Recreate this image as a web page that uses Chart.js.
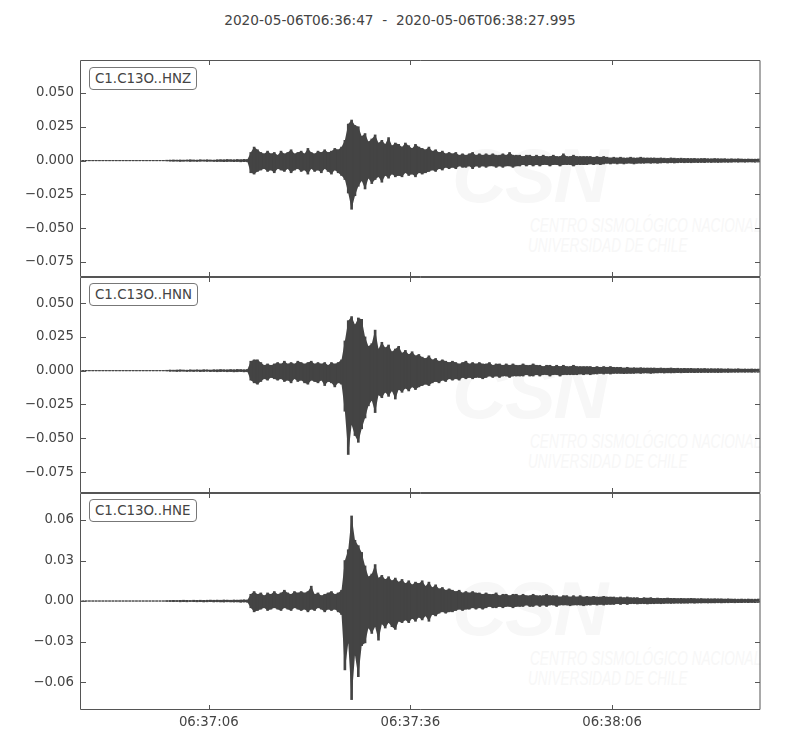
<!DOCTYPE html>
<html>
<head>
<meta charset="utf-8">
<script src="https://cdn.jsdelivr.net/npm/chart.js@4/dist/chart.umd.min.js"></script>
<style>
  body{margin:0;background:#fff;width:800px;height:750px;position:relative;overflow:hidden;font-family:"DejaVu Sans",sans-serif;}
  canvas{position:absolute;left:0;z-index:1;}
  .title{position:absolute;top:12px;left:0;width:800px;text-align:center;font-size:13.7px;color:#444;z-index:2;white-space:pre;}
  .lbl{position:absolute;left:89px;border:1px solid #777;border-radius:4px;background:#fff;color:#444;font-size:13.4px;padding:3px 5px;line-height:15px;z-index:3;white-space:nowrap;}
  .wm{position:absolute;z-index:0;color:#f7f7f7;font-family:"Liberation Sans",sans-serif;white-space:nowrap;}
  .wm .csn{position:absolute;left:0;top:0;font-size:76px;font-style:italic;font-weight:bold;letter-spacing:-2px;}
  .wm .l1{position:absolute;left:78px;top:82px;font-size:20px;font-style:italic;transform:scaleX(0.68);transform-origin:left top;}
  .wm .l2{position:absolute;left:76px;top:102px;font-size:20px;font-style:italic;transform:scaleX(0.68);transform-origin:left top;}
</style>
</head>
<body>
<div class="title" id="title"></div>

<div class="wm" style="left:452px;top:132px;"><span class="csn">CSN</span><span class="l1">CENTRO SISMOLÓGICO NACIONAL</span><span class="l2">UNIVERSIDAD DE CHILE</span></div>
<div class="wm" style="left:452px;top:348px;"><span class="csn">CSN</span><span class="l1">CENTRO SISMOLÓGICO NACIONAL</span><span class="l2">UNIVERSIDAD DE CHILE</span></div>
<div class="wm" style="left:452px;top:565px;"><span class="csn">CSN</span><span class="l1">CENTRO SISMOLÓGICO NACIONAL</span><span class="l2">UNIVERSIDAD DE CHILE</span></div>

<canvas id="c1" width="800" height="247" style="top:45px"></canvas>
<canvas id="c2" width="800" height="246" style="top:262px"></canvas>
<canvas id="c3" width="800" height="262" style="top:478px"></canvas>

<div class="lbl" id="l1" style="top:67px"></div>
<div class="lbl" id="l2" style="top:283px"></div>
<div class="lbl" id="l3" style="top:499px"></div>

<script>
// ---------- data ----------
const startLabel = '2020-05-06T06:36:47';
const endLabel = '2020-05-06T06:38:27.995';
const recordSeconds = 100.995;       // length of the record in seconds
const binSeconds = 0.5;              // each value below is the max/min of one 0.5 s bin

const channels = ['C1.C13O..HNZ', 'C1.C13O..HNN', 'C1.C13O..HNE'];

const xTickSeconds = [19, 49, 79];
const xTickLabels = ['06:37:06', '06:37:36', '06:38:06'];

const yTicksHNZ = [0.05, 0.025, 0, -0.025, -0.05, -0.075];
const yLabelsHNZ = ['0.050', '0.025', '0.000', '\u22120.025', '\u22120.050', '\u22120.075'];
const yTicksHNN = [0.05, 0.025, 0, -0.025, -0.05, -0.075];
const yLabelsHNN = ['0.050', '0.025', '0.000', '\u22120.025', '\u22120.050', '\u22120.075'];
const yTicksHNE = [0.06, 0.03, 0, -0.03, -0.06];
const yLabelsHNE = ['0.06', '0.03', '0.00', '\u22120.03', '\u22120.06'];

const yRangeHNZ = [-0.0861, 0.0744];
const yRangeHNN = [-0.0905, 0.0693];
const yRangeHNE = [-0.0807, 0.0800];

const hnzMax = [
0.0002,0.0002,0.0002,0.0002,0.0002,0.0002,0.0002,0.0002,0.0002,0.0002,
0.0002,0.0002,0.0002,0.0002,0.0002,0.0002,0.0002,0.0002,0.0002,0.0002,
0.0002,0.0002,0.0002,0.0002,0.0002,0.0003,0.0004,0.0005,0.0004,0.0005,
0.0004,0.0005,0.0006,0.0005,0.0004,0.0006,0.0005,0.0006,0.0005,0.0004,
0.0006,0.0007,0.0006,0.0008,0.0007,0.0006,0.0008,0.0007,0.0009,0.0008,
0.006,0.010,0.008,0.006,0.005,0.007,0.005,0.006,0.004,0.007,
0.005,0.006,0.008,0.005,0.006,0.007,0.005,0.009,0.006,0.005,
0.007,0.006,0.008,0.006,0.007,0.009,0.008,0.010,0.015,0.027,
0.030,0.026,0.025,0.018,0.020,0.014,0.016,0.019,0.013,0.015,
0.012,0.017,0.011,0.013,0.012,0.010,0.013,0.011,0.009,0.012,
0.010,0.009,0.008,0.010,0.007,0.008,0.006,0.007,0.005,0.006,
0.005,0.006,0.004,0.005,0.004,0.005,0.006,0.004,0.005,0.004,
0.005,0.004,0.005,0.004,0.004,0.005,0.004,0.006,0.004,0.004,
0.004,0.003,0.004,0.004,0.003,0.004,0.003,0.004,0.003,0.003,
0.004,0.003,0.003,0.005,0.003,0.003,0.004,0.003,0.003,0.003,
0.003,0.003,0.0025,0.003,0.0025,0.003,0.0025,0.002,0.0025,0.002,
0.0025,0.002,0.002,0.0025,0.002,0.002,0.0025,0.002,0.002,0.002,
0.002,0.0018,0.002,0.0018,0.0016,0.002,0.0018,0.0016,0.0018,0.0016,
0.0016,0.0015,0.0016,0.0014,0.0015,0.0016,0.0014,0.0013,0.0015,0.0014,
0.0013,0.0014,0.0012,0.0013,0.0012,0.0013,0.0012,0.0011,0.0012,0.0011,
0.0011,0.0012
];
const hnzMin = [
-0.0002,-0.0002,-0.0002,-0.0002,-0.0002,-0.0002,-0.0002,-0.0002,-0.0002,-0.0002,
-0.0002,-0.0002,-0.0002,-0.0002,-0.0002,-0.0002,-0.0002,-0.0002,-0.0002,-0.0002,
-0.0002,-0.0002,-0.0002,-0.0002,-0.0002,-0.0003,-0.0004,-0.0005,-0.0004,-0.0006,
-0.0005,-0.0004,-0.0006,-0.0005,-0.0006,-0.0005,-0.0004,-0.0006,-0.0005,-0.0006,
-0.0007,-0.0006,-0.0008,-0.0007,-0.0006,-0.0008,-0.0007,-0.0009,-0.0008,-0.0009,
-0.009,-0.010,-0.008,-0.007,-0.006,-0.008,-0.007,-0.009,-0.006,-0.007,
-0.008,-0.006,-0.009,-0.007,-0.006,-0.008,-0.007,-0.010,-0.006,-0.008,
-0.007,-0.009,-0.006,-0.008,-0.010,-0.007,-0.009,-0.011,-0.014,-0.024,
-0.036,-0.026,-0.019,-0.015,-0.021,-0.013,-0.017,-0.014,-0.012,-0.016,
-0.011,-0.013,-0.010,-0.012,-0.011,-0.012,-0.009,-0.011,-0.010,-0.012,
-0.009,-0.010,-0.009,-0.008,-0.007,-0.008,-0.006,-0.007,-0.005,-0.006,
-0.005,-0.006,-0.004,-0.005,-0.005,-0.004,-0.006,-0.004,-0.005,-0.004,
-0.005,-0.004,-0.004,-0.005,-0.004,-0.005,-0.004,-0.004,-0.005,-0.004,
-0.004,-0.003,-0.004,-0.003,-0.004,-0.003,-0.004,-0.003,-0.003,-0.004,
-0.003,-0.003,-0.004,-0.003,-0.003,-0.003,-0.004,-0.003,-0.003,-0.003,
-0.003,-0.0025,-0.003,-0.0025,-0.003,-0.0025,-0.002,-0.0025,-0.002,-0.0025,
-0.002,-0.0025,-0.002,-0.002,-0.0025,-0.002,-0.002,-0.002,-0.0018,-0.002,
-0.0018,-0.002,-0.0018,-0.0016,-0.0018,-0.0016,-0.0018,-0.0016,-0.0015,-0.0016,
-0.0015,-0.0016,-0.0014,-0.0015,-0.0014,-0.0015,-0.0013,-0.0014,-0.0013,-0.0014,
-0.0013,-0.0012,-0.0013,-0.0012,-0.0011,-0.0012,-0.0011,-0.0012,-0.0011,-0.0011,
-0.0012,-0.0011
];

const hnnMax = [
0.0002,0.0002,0.0002,0.0002,0.0002,0.0002,0.0002,0.0002,0.0002,0.0002,
0.0002,0.0002,0.0002,0.0002,0.0002,0.0002,0.0002,0.0002,0.0002,0.0002,
0.0002,0.0002,0.0002,0.0002,0.0002,0.0003,0.0005,0.0004,0.0005,0.0006,
0.0005,0.0004,0.0006,0.0005,0.0006,0.0005,0.0007,0.0006,0.0005,0.0007,
0.0006,0.0008,0.0007,0.0006,0.0008,0.0007,0.0009,0.0008,0.0007,0.0009,
0.007,0.008,0.008,0.006,0.004,0.005,0.004,0.005,0.006,0.005,
0.007,0.005,0.006,0.005,0.007,0.006,0.005,0.006,0.007,0.005,
0.006,0.005,0.006,0.004,0.006,0.005,0.006,0.008,0.022,0.037,
0.040,0.034,0.039,0.038,0.025,0.018,0.020,0.030,0.016,0.021,
0.017,0.019,0.014,0.016,0.018,0.013,0.015,0.012,0.014,0.011,
0.012,0.010,0.009,0.011,0.008,0.009,0.007,0.008,0.007,0.006,
0.007,0.006,0.005,0.006,0.007,0.005,0.006,0.005,0.006,0.005,
0.005,0.006,0.004,0.005,0.005,0.004,0.005,0.004,0.005,0.004,
0.004,0.005,0.004,0.004,0.005,0.004,0.004,0.003,0.004,0.004,
0.003,0.004,0.003,0.004,0.003,0.003,0.004,0.003,0.003,0.003,
0.003,0.003,0.0025,0.003,0.0025,0.003,0.0025,0.003,0.0025,0.0025,
0.0025,0.002,0.0025,0.002,0.0022,0.002,0.0022,0.002,0.002,0.002,
0.002,0.0018,0.002,0.0018,0.0018,0.002,0.0017,0.0018,0.0016,0.0017,
0.0016,0.0017,0.0015,0.0016,0.0015,0.0016,0.0014,0.0015,0.0014,0.0015,
0.0014,0.0013,0.0014,0.0013,0.0013,0.0014,0.0012,0.0013,0.0012,0.0013,
0.0012,0.0012
];
const hnnMin = [
-0.0002,-0.0002,-0.0002,-0.0002,-0.0002,-0.0002,-0.0002,-0.0002,-0.0002,-0.0002,
-0.0002,-0.0002,-0.0002,-0.0002,-0.0002,-0.0002,-0.0002,-0.0002,-0.0002,-0.0002,
-0.0002,-0.0002,-0.0002,-0.0002,-0.0002,-0.0003,-0.0005,-0.0004,-0.0006,-0.0005,
-0.0004,-0.0006,-0.0005,-0.0006,-0.0005,-0.0007,-0.0006,-0.0005,-0.0007,-0.0006,
-0.0008,-0.0007,-0.0006,-0.0008,-0.0007,-0.0009,-0.0008,-0.0007,-0.0009,-0.0008,
-0.007,-0.009,-0.010,-0.008,-0.006,-0.007,-0.005,-0.006,-0.007,-0.006,
-0.008,-0.007,-0.009,-0.006,-0.008,-0.007,-0.009,-0.010,-0.007,-0.008,
-0.009,-0.007,-0.011,-0.008,-0.009,-0.012,-0.009,-0.010,-0.030,-0.062,
-0.040,-0.048,-0.053,-0.043,-0.035,-0.026,-0.022,-0.031,-0.018,-0.020,
-0.016,-0.019,-0.015,-0.021,-0.014,-0.016,-0.013,-0.015,-0.012,-0.014,
-0.012,-0.011,-0.010,-0.011,-0.009,-0.008,-0.009,-0.007,-0.008,-0.006,
-0.007,-0.006,-0.007,-0.005,-0.006,-0.005,-0.006,-0.005,-0.005,-0.006,
-0.005,-0.004,-0.005,-0.004,-0.005,-0.004,-0.004,-0.005,-0.004,-0.004,
-0.004,-0.004,-0.003,-0.004,-0.004,-0.003,-0.004,-0.003,-0.003,-0.004,
-0.003,-0.003,-0.004,-0.003,-0.003,-0.003,-0.003,-0.003,-0.0025,-0.003,
-0.0025,-0.003,-0.0025,-0.0025,-0.002,-0.0025,-0.002,-0.0025,-0.002,-0.002,
-0.002,-0.0022,-0.002,-0.002,-0.002,-0.0018,-0.002,-0.0018,-0.0018,-0.002,
-0.0018,-0.0017,-0.0016,-0.0018,-0.0016,-0.0017,-0.0016,-0.0015,-0.0016,-0.0015,
-0.0015,-0.0014,-0.0015,-0.0014,-0.0014,-0.0013,-0.0014,-0.0013,-0.0013,-0.0014,
-0.0013,-0.0012,-0.0013,-0.0012,-0.0012,-0.0012,-0.0011,-0.0012,-0.0011,-0.0012,
-0.0011,-0.0012
];

const hneMax = [
0.0002,0.0002,0.0002,0.0002,0.0002,0.0002,0.0002,0.0002,0.0002,0.0002,
0.0002,0.0002,0.0002,0.0002,0.0002,0.0002,0.0002,0.0002,0.0002,0.0002,
0.0002,0.0002,0.0002,0.0002,0.0002,0.0003,0.0004,0.0005,0.0004,0.0005,
0.0006,0.0005,0.0004,0.0006,0.0005,0.0006,0.0005,0.0006,0.0007,0.0006,
0.0007,0.0006,0.0008,0.0007,0.0006,0.0008,0.0007,0.0008,0.0009,0.0008,
0.005,0.007,0.005,0.006,0.004,0.006,0.005,0.007,0.005,0.006,
0.008,0.006,0.005,0.007,0.006,0.007,0.006,0.007,0.011,0.005,
0.006,0.004,0.005,0.006,0.007,0.005,0.006,0.008,0.030,0.038,
0.063,0.045,0.041,0.036,0.026,0.018,0.020,0.027,0.017,0.019,
0.016,0.018,0.015,0.017,0.014,0.016,0.013,0.015,0.012,0.014,
0.013,0.015,0.011,0.014,0.010,0.012,0.009,0.010,0.008,0.009,
0.008,0.007,0.008,0.006,0.007,0.006,0.007,0.006,0.006,0.005,
0.006,0.005,0.005,0.006,0.004,0.005,0.005,0.004,0.005,0.005,
0.004,0.005,0.004,0.004,0.005,0.004,0.004,0.004,0.005,0.004,
0.004,0.004,0.003,0.004,0.004,0.003,0.004,0.003,0.004,0.003,
0.0035,0.003,0.0035,0.003,0.003,0.0035,0.003,0.003,0.003,0.0025,
0.003,0.0025,0.003,0.0025,0.0025,0.0025,0.002,0.0025,0.0022,0.0025,
0.002,0.0022,0.002,0.002,0.0022,0.002,0.002,0.0018,0.002,0.0018,
0.0018,0.002,0.0018,0.0017,0.0018,0.0016,0.0017,0.0016,0.0017,0.0016,
0.0016,0.0015,0.0016,0.0015,0.0015,0.0014,0.0015,0.0014,0.0015,0.0014,
0.0014,0.0015
];
const hneMin = [
-0.0002,-0.0002,-0.0002,-0.0002,-0.0002,-0.0002,-0.0002,-0.0002,-0.0002,-0.0002,
-0.0002,-0.0002,-0.0002,-0.0002,-0.0002,-0.0002,-0.0002,-0.0002,-0.0002,-0.0002,
-0.0002,-0.0002,-0.0002,-0.0002,-0.0002,-0.0003,-0.0004,-0.0005,-0.0004,-0.0006,
-0.0005,-0.0006,-0.0004,-0.0005,-0.0006,-0.0005,-0.0007,-0.0006,-0.0005,-0.0007,
-0.0006,-0.0007,-0.0008,-0.0006,-0.0007,-0.0008,-0.0007,-0.0009,-0.0008,-0.0009,
-0.005,-0.008,-0.007,-0.006,-0.005,-0.007,-0.006,-0.005,-0.006,-0.007,
-0.005,-0.006,-0.007,-0.005,-0.006,-0.007,-0.006,-0.008,-0.006,-0.007,
-0.005,-0.006,-0.008,-0.006,-0.007,-0.006,-0.008,-0.010,-0.051,-0.031,
-0.073,-0.040,-0.056,-0.033,-0.031,-0.020,-0.024,-0.019,-0.029,-0.017,
-0.020,-0.016,-0.019,-0.021,-0.015,-0.016,-0.014,-0.016,-0.013,-0.015,
-0.012,-0.014,-0.011,-0.015,-0.010,-0.011,-0.009,-0.008,-0.009,-0.008,
-0.008,-0.007,-0.006,-0.007,-0.006,-0.006,-0.005,-0.006,-0.005,-0.006,
-0.005,-0.004,-0.005,-0.005,-0.004,-0.005,-0.004,-0.004,-0.005,-0.004,
-0.004,-0.004,-0.003,-0.004,-0.004,-0.003,-0.004,-0.003,-0.004,-0.003,
-0.003,-0.004,-0.003,-0.003,-0.003,-0.0035,-0.003,-0.003,-0.003,-0.0035,
-0.003,-0.003,-0.0025,-0.003,-0.0025,-0.003,-0.0025,-0.0025,-0.0025,-0.002,
-0.0025,-0.002,-0.0025,-0.002,-0.002,-0.0022,-0.002,-0.002,-0.0022,-0.002,
-0.002,-0.0018,-0.002,-0.0018,-0.0017,-0.0018,-0.0017,-0.0016,-0.0017,-0.0016,
-0.0016,-0.0015,-0.0016,-0.0015,-0.0015,-0.0014,-0.0015,-0.0014,-0.0014,-0.0013,
-0.0014,-0.0013,-0.0013,-0.0012,-0.0013,-0.0012,-0.0012,-0.0011,-0.0012,-0.0011,
-0.0012,-0.0011
];

// ---------- drawing ----------
const traceColor = '#444444';
const frameColor = '#555555';
const textColor = '#444444';
const tickFont = { family: 'DejaVu Sans', size: 13.3 };

document.getElementById('title').textContent = startLabel + '  -  ' + endLabel;
document.getElementById('l1').textContent = channels[0];
document.getElementById('l2').textContent = channels[1];
document.getElementById('l3').textContent = channels[2];

// min/max trace rendering: thin vertical bar per bin from its minimum to its maximum,
// over a filled band between the upper and lower envelope lines
function binCenters(arr) { return arr.map((v, i) => i * binSeconds + binSeconds / 2); }
function envelope(arr) {
  const xs = binCenters(arr);
  return arr.map((v, i) => ({ x: xs[i], y: v }));
}
function minMaxBars(maxArr, minArr) {
  const xs = binCenters(maxArr);
  return maxArr.map((hi, i) => ({ x: xs[i], y: [minArr[i], hi] }));
}

function framePlugin(yTicks) {
  return {
    id: 'frame',
    afterDatasetsDraw(chart) {
      const { ctx, chartArea: a, scales } = chart;
      ctx.save();
      ctx.strokeStyle = frameColor;
      ctx.lineWidth = 1;
      ctx.beginPath();
      ctx.rect(Math.round(a.left) - 0.5, Math.round(a.top) + 0.5, Math.round(a.right - a.left) + 0.5, Math.round(a.bottom - a.top) - 1);
      ctx.stroke();
      ctx.beginPath();
      xTickSeconds.forEach(v => {
        const px = Math.round(scales.x.getPixelForValue(v)) + 0.5;
        ctx.moveTo(px, a.top); ctx.lineTo(px, a.top + 5);
        ctx.moveTo(px, a.bottom); ctx.lineTo(px, a.bottom - 5);
      });
      yTicks.forEach(v => {
        const py = Math.round(scales.y.getPixelForValue(v)) + 0.5;
        ctx.moveTo(a.left, py); ctx.lineTo(a.left + 5, py);
        ctx.moveTo(a.right, py); ctx.lineTo(a.right - 5, py);
      });
      ctx.stroke();
      ctx.restore();
    }
  };
}

function makePanel(id, maxArr, minArr, yTicks, yLabels, yRange, showX) {
  new Chart(document.getElementById(id), {
    type: 'line',
    data: {
      datasets: [{
        type: 'bar',
        data: minMaxBars(maxArr, minArr),
        backgroundColor: traceColor,
        borderWidth: 0,
        barThickness: 2,
        grouped: false,
        order: 0
      }, {
        data: envelope(maxArr),
        borderColor: 'rgba(68,68,68,0)',
        backgroundColor: traceColor,
        borderWidth: 0,
        pointRadius: 0,
        tension: 0,
        fill: '+1',
        order: 1
      }, {
        data: envelope(minArr),
        borderColor: 'rgba(68,68,68,0)',
        backgroundColor: traceColor,
        borderWidth: 0,
        pointRadius: 0,
        tension: 0,
        fill: false,
        order: 2
      }]
    },
    options: {
      responsive: false,
      animation: false,
      events: [],
      layout: { padding: { left: 0, right: 40, top: 15, bottom: showX ? 0 : 15 } },
      plugins: { legend: { display: false }, tooltip: { enabled: false }, title: { display: false } },
      scales: {
        x: {
          type: 'linear',
          min: 0,
          max: recordSeconds,
          offset: false,
          display: showX,
          grid: { display: false, drawTicks: false, offset: false },
          border: { display: false },
          afterBuildTicks: s => { s.ticks = xTickSeconds.map(v => ({ value: v })); },
          afterFit: s => { if (showX) s.height = 30; },
          ticks: {
            color: textColor, font: tickFont, padding: 5, maxRotation: 0, autoSkip: false,
            callback: (v, i) => xTickLabels[i]
          }
        },
        y: {
          type: 'linear',
          min: yRange[0],
          max: yRange[1],
          grid: { display: false, drawTicks: false },
          border: { display: false },
          afterBuildTicks: s => { s.ticks = yTicks.map(v => ({ value: v })); },
          afterFit: s => { s.width = 81; },
          ticks: {
            color: textColor, font: tickFont, padding: 7, autoSkip: false,
            callback: (v, i) => yLabels[i]
          }
        }
      }
    },
    plugins: [framePlugin(yTicks)]
  });
}

makePanel('c1', hnzMax, hnzMin, yTicksHNZ, yLabelsHNZ, yRangeHNZ, false);
makePanel('c2', hnnMax, hnnMin, yTicksHNN, yLabelsHNN, yRangeHNN, false);
makePanel('c3', hneMax, hneMin, yTicksHNE, yLabelsHNE, yRangeHNE, true);
</script>
</body>
</html>
